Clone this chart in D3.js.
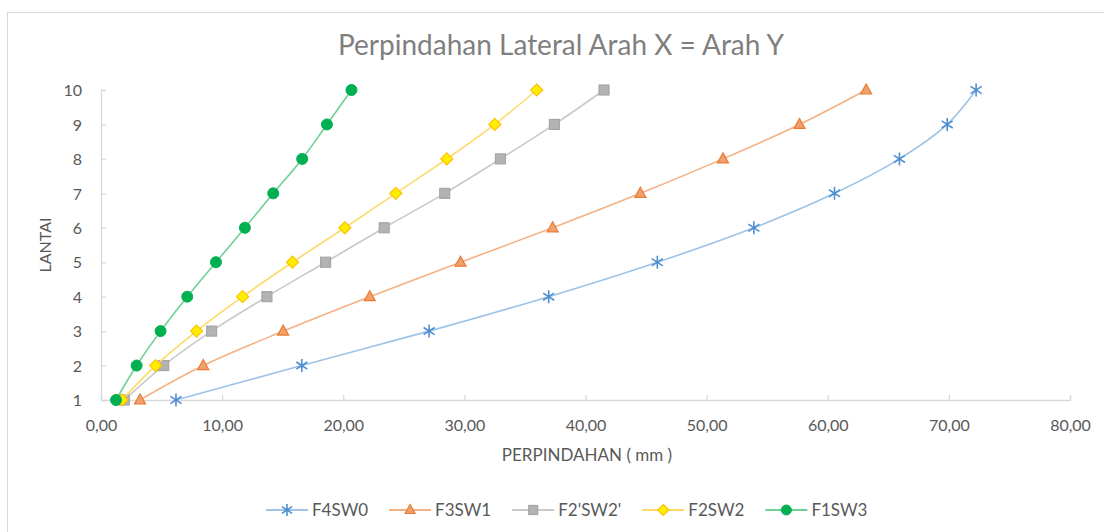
<!DOCTYPE html>
<html>
<head>
<meta charset="utf-8">
<script src="https://cdn.jsdelivr.net/npm/d3@7"></script>
<style>
  html, body { margin: 0; padding: 0; background: #fff; }
  svg { display: block; font-family: Lato, "Open Sans", sans-serif; }
</style>
</head>
<body>
<div class="chart"></div>
<script>
// data
const floors = [1, 2, 3, 4, 5, 6, 7, 8, 9, 10]
const F4SW0 = [6.19, 16.58, 27.09, 36.96, 45.93, 53.90, 60.56, 65.92, 69.86, 72.25]
const F3SW1 = [3.22, 8.44, 15.04, 22.19, 29.68, 37.29, 44.53, 51.35, 57.67, 63.17]
const F2pSW2p = [1.92, 5.17, 9.13, 13.70, 18.54, 23.38, 28.38, 32.98, 37.43, 41.53]
const F2SW2 = [1.73, 4.51, 7.89, 11.69, 15.81, 20.13, 24.34, 28.55, 32.51, 35.97]
const F1SW3 = [1.24, 2.94, 4.92, 7.12, 9.49, 11.88, 14.22, 16.61, 18.65, 20.68]
const seriesNames = ['F4SW0', 'F3SW1', "F2'SW2'", 'F2SW2', 'F1SW3']
const xTicks = [0, 10, 20, 30, 40, 50, 60, 70, 80]
const yTicks = [1, 2, 3, 4, 5, 6, 7, 8, 9, 10]

const width = 1104
const height = 532
const margin = { left: 101, right: 34, top: 90, bottom: 132 }

// look of each series: line colour, marker kind and colours
const styles = [
  { line: '#9dc3e6', marker: 'star', fill: 'none', stroke: '#4f8fd0' },
  { line: '#f4b183', marker: 'triangle', fill: '#f0a06c', stroke: '#e97a33' },
  { line: '#c9c9c9', marker: 'square', fill: '#b3b3b3', stroke: '#a6a6a6' },
  { line: '#ffd966', marker: 'diamond', fill: '#ffee00', stroke: '#ffc000' },
  { line: '#6fcf97', marker: 'circle', fill: '#00b050', stroke: '#00b050' }
]

const series = [F4SW0, F3SW1, F2pSW2p, F2SW2, F1SW3].map((vals, i) => ({
  name: seriesNames[i],
  style: styles[i],
  points: vals.map((v, j) => ({ x: v, y: floors[j] }))
}))

const x = d3.scaleLinear().domain([0, 80]).range([margin.left, width - margin.right])
const y = d3.scaleLinear().domain([1, 10]).range([height - margin.bottom, margin.top])

const locale = d3.formatLocale({ decimal: ',', thousands: '.', grouping: [3], currency: ['', ''] })
const fmt = locale.format('.2f')

const svg = d3.select('.chart').append('svg')
  .attr('width', width)
  .attr('height', height)

// chart frame (only left/top edges fall inside the picture)
svg.append('rect')
  .attr('x', 7.5).attr('y', 12.5)
  .attr('width', width + 10).attr('height', height + 10)
  .attr('fill', '#fff')
  .attr('stroke', '#d9d9d9')

svg.append('text')
  .attr('x', 561)
  .attr('y', 55)
  .attr('text-anchor', 'middle')
  .attr('fill', '#7f7f7f')
  .style('font-size', '28px')
  .text('Perpindahan Lateral Arah X = Arah Y')

// axes
const xAxis = svg.append('g')
  .attr('transform', `translate(0,${y(1)})`)
  .call(d3.axisBottom(x).tickValues(xTicks).tickFormat(fmt).tickSize(-5).tickPadding(20))
const yAxis = svg.append('g')
  .attr('transform', `translate(${x(0)},0)`)
  .call(d3.axisLeft(y).tickValues(yTicks).tickFormat(d3.format('d')).tickSize(-5).tickPadding(19))

for (const ax of [xAxis, yAxis]) {
  ax.select('.domain').attr('stroke', '#d9d9d9').attr('stroke-width', 1.3)
  ax.selectAll('.tick line').attr('stroke', '#d9d9d9').attr('stroke-width', 1.3)
  ax.selectAll('.tick text')
    .attr('fill', '#595959')
    .style('font-size', '16px')
    .style('font-family', 'Lato, sans-serif')
}
yAxis.selectAll('.tick text').attr('dy', '0.36em')

svg.append('text')
  .attr('x', 587)
  .attr('y', 461)
  .attr('text-anchor', 'middle')
  .attr('fill', '#595959')
  .style('font-size', '17px')
  .text('PERPINDAHAN ( mm )')

svg.append('text')
  .attr('transform', `translate(51,${(y(1) + y(10)) / 2}) rotate(-90)`)
  .attr('text-anchor', 'middle')
  .attr('fill', '#595959')
  .style('font-size', '16px')
  .text('LANTAI')

// marker drawer
function drawMarker(sel, st, size) {
  const r = size / 2
  if (st.marker === 'circle') {
    sel.append('circle').attr('r', r + 0.5).attr('fill', st.fill).attr('stroke', st.stroke)
  } else if (st.marker === 'square') {
    sel.append('rect').attr('x', -r).attr('y', -r).attr('width', size).attr('height', size)
      .attr('fill', st.fill).attr('stroke', st.stroke).attr('stroke-width', 1.2)
  } else if (st.marker === 'diamond') {
    sel.append('path').attr('d', `M0,${-r - 1}L${r + 1},0L0,${r + 1}L${-r - 1},0Z`)
      .attr('fill', st.fill).attr('stroke', st.stroke).attr('stroke-width', 1.2)
  } else if (st.marker === 'triangle') {
    sel.append('path').attr('d', `M0,${-r - 1}L${r + 0.5},${r - 1}L${-r - 0.5},${r - 1}Z`)
      .attr('fill', st.fill).attr('stroke', st.stroke).attr('stroke-width', 1.2)
  } else {
    // asterisk: vertical bar plus an X
    const a = r + 1.5
    const dx = a * 0.85, dy = a * 0.55
    sel.append('path').attr('d', `M0,${-a}V${a}M${-dx},${-dy}L${dx},${dy}M${-dx},${dy}L${dx},${-dy}`)
      .attr('fill', 'none').attr('stroke', st.stroke).attr('stroke-width', 1.6)
  }
}

const line = d3.line()
  .x(d => x(d.x))
  .y(d => y(d.y))
  .curve(d3.curveCatmullRom.alpha(0.5))

const plot = svg.append('g')
series.forEach(s => {
  const g = plot.append('g')
  g.append('path')
    .datum(s.points)
    .attr('d', line)
    .attr('fill', 'none')
    .attr('stroke', s.style.line)
    .attr('stroke-width', 1.6)
  g.selectAll('g.pt')
    .data(s.points)
    .join('g')
    .attr('class', 'pt')
    .attr('transform', d => `translate(${x(d.x)},${y(d.y)})`)
    .each(function () { drawMarker(d3.select(this), s.style, 10) })
})

// legend
const legend = svg.append('g').attr('transform', 'translate(0,510)')
let lx = 266
series.forEach(s => {
  const item = legend.append('g').attr('transform', `translate(${lx},0)`)
  item.append('line').attr('x1', 0).attr('x2', 42).attr('stroke', s.style.line).attr('stroke-width', 1.8)
  drawMarker(item.append('g').attr('transform', 'translate(21,0)'), s.style, 9)
  const t = item.append('text')
    .attr('x', 46)
    .attr('dy', '0.35em')
    .attr('fill', '#595959')
    .style('font-size', '17px')
    .text(s.name)
  lx += 46 + t.node().getComputedTextLength() + 21
})
</script>
</body>
</html>
